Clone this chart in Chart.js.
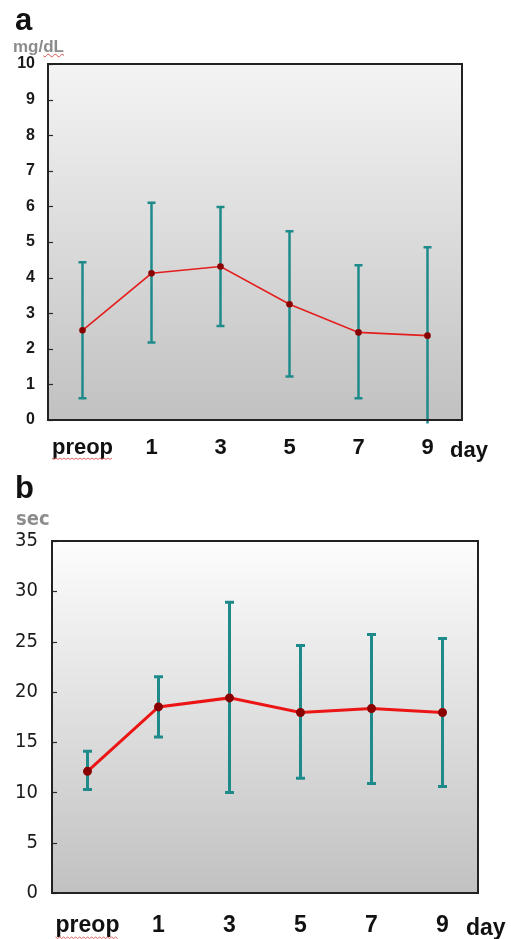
<!DOCTYPE html>
<html>
<head>
<meta charset="utf-8">
<script src="https://cdn.jsdelivr.net/npm/chart.js@4/dist/chart.umd.min.js"></script>
<style>
  body { margin: 0; background: #fff; width: 511px; height: 939px; position: relative; overflow: hidden;
         font-family: "Liberation Sans", Arial, sans-serif; }
  canvas { position: absolute; left: 0; }
  #chartA { top: 0; }
  #chartB { top: 470px; }
  .lbl { position: absolute; white-space: nowrap; line-height: 1; }
  .panel { font-weight: bold; font-size: 31px; color: #111; }
  .unit { color: #8c8c8c; font-weight: bold; }
  .day { font-weight: bold; color: #111; }
  .wavy { text-decoration: underline wavy #e05050; text-decoration-thickness: 1px; }
</style>
</head>
<body>
<canvas id="chartA" width="511" height="470"></canvas>
<canvas id="chartB" width="511" height="469"></canvas>

<div class="lbl panel" style="left:15px; top:4px;">a</div>
<div class="lbl unit" style="left:13px; top:38px; font-size:17px;">mg/<span class="wavy">dL</span></div>
<div class="lbl day" style="left:450px; top:439px; font-size:22px;">day</div>

<div class="lbl panel" style="left:15px; top:472px;">b</div>
<div class="lbl unit" style="left:16px; top:508px; font-size:20px; font-family:'DejaVu Sans Condensed',sans-serif;">sec</div>
<div class="lbl day" style="left:466px; top:916px; font-size:23px;">day</div>

<script>
// x categories
const days = ['preop', '1', '3', '5', '7', '9'];

// panel a (mg/dL)
const aMean  = [2.52, 4.12, 4.31, 3.25, 2.46, 2.37];
const aUpper = [4.43, 6.10, 5.98, 5.30, 4.35, 4.85];
const aLower = [0.61, 2.18, 2.64, 1.22, 0.61, -0.1];

// panel b (sec)
const bMean  = [12.1, 18.5, 19.4, 17.95, 18.35, 17.95];
const bUpper = [14.1, 21.5, 28.9, 24.6, 25.7, 25.3];
const bLower = [10.3, 15.5, 10.0, 11.4, 10.9, 10.6];

// gradient plot area, border, inner ticks
const plotFrame = {
  id: 'plotFrame',
  beforeDraw(chart, args, opts) {
    const { ctx, chartArea: { left, top, right, bottom } } = chart;
    const g = ctx.createLinearGradient(0, top, 0, bottom);
    g.addColorStop(0, opts.topColor);
    g.addColorStop(1, opts.bottomColor);
    ctx.save();
    ctx.fillStyle = g;
    ctx.fillRect(left, top, right - left, bottom - top);
    ctx.restore();
  },
  afterDraw(chart, args, opts) {
    const { ctx, chartArea: { left, top, right, bottom }, scales: { y } } = chart;
    ctx.save();
    ctx.strokeStyle = '#2a2a2a';
    ctx.lineWidth = 1.2;
    y.ticks.forEach(t => {
      const py = Math.round(y.getPixelForValue(t.value)) + 0.5;
      ctx.beginPath();
      ctx.moveTo(left, py);
      ctx.lineTo(left + 5, py);
      ctx.stroke();
    });
    ctx.strokeStyle = '#222';
    ctx.lineWidth = 2;
    ctx.strokeRect(left, top, right - left, bottom - top);
    ctx.restore();
  }
};

// SD bars drawn under the line
const errorBars = {
  id: 'errorBars',
  beforeDatasetsDraw(chart, args, opts) {
    const { ctx, scales: { x, y } } = chart;
    ctx.save();
    ctx.strokeStyle = opts.color;
    ctx.lineWidth = opts.width;
    opts.upper.forEach((hi, i) => {
      const px = x.getPixelForValue(i);
      const t = y.getPixelForValue(hi);
      const b = y.getPixelForValue(opts.lower[i]);
      ctx.beginPath();
      ctx.moveTo(px, t); ctx.lineTo(px, b);
      ctx.moveTo(px - opts.cap, t); ctx.lineTo(px + opts.cap, t);
      if (opts.lower[i] >= 0) { ctx.moveTo(px - opts.cap, b); ctx.lineTo(px + opts.cap, b); }
      ctx.stroke();
    });
    ctx.restore();
  }
};

// red squiggle under "preop"
const squiggle = {
  id: 'squiggle',
  afterDraw(chart, args, opts) {
    const { ctx, scales: { x } } = chart;
    const px = x.getPixelForTick(0);
    ctx.save();
    ctx.font = opts.font;
    const w = ctx.measureText(days[0]).width;
    ctx.strokeStyle = '#e06060';
    ctx.lineWidth = 1;
    ctx.beginPath();
    let sx = px - w / 2;
    for (let k = 0; sx + k * 2 <= px + w / 2; k++) {
      const yy = opts.y + (k % 2 ? 1.5 : 0);
      if (k === 0) ctx.moveTo(sx, yy); else ctx.lineTo(sx + k * 2, yy);
    }
    ctx.stroke();
    ctx.restore();
  }
};

function makeChart(id, cfg) {
  return new Chart(document.getElementById(id), {
    type: 'line',
    data: {
      labels: days,
      datasets: [{
        data: cfg.mean,
        borderColor: cfg.lineColor,
        borderWidth: cfg.lineWidth,
        pointRadius: cfg.pointRadius,
        pointBackgroundColor: '#8a0000',
        pointBorderColor: '#8a0000',
        tension: 0
      }]
    },
    options: {
      responsive: false,
      animation: false,
      events: [],
      layout: { padding: cfg.padding },
      plugins: {
        legend: { display: false },
        tooltip: { enabled: false },
        plotFrame: { topColor: cfg.bgTop, bottomColor: '#c1c1c1' },
        errorBars: { upper: cfg.upper, lower: cfg.lower, color: '#1f8a8a', width: cfg.barWidth, cap: cfg.cap },
        squiggle: { font: cfg.xFont, y: cfg.squiggleY }
      },
      scales: {
        x: {
          offset: true,
          grid: { display: false, drawTicks: false },
          border: { display: false },
          ticks: {
            color: '#111',
            font: { family: 'Liberation Sans', size: cfg.xSize, weight: 'bold' },
            padding: cfg.xPad,
            maxRotation: 0,
            autoSkip: false
          },
          afterFit: s => { s.height = cfg.xHeight; }
        },
        y: {
          min: 0,
          max: cfg.yMax,
          grid: { display: false, drawTicks: false },
          border: { display: false },
          ticks: {
            stepSize: cfg.step,
            color: '#1a1a1a',
            font: { family: cfg.yFamily, size: cfg.ySize, weight: cfg.yWeight },
            padding: cfg.yPad
          },
          afterFit: s => { s.width = cfg.yWidth; }
        }
      }
    },
    plugins: [plotFrame, errorBars, squiggle]
  });
}

makeChart('chartA', {
  mean: aMean, upper: aUpper, lower: aLower,
  lineColor: '#e41e1e', lineWidth: 1.6, pointRadius: 2.5,
  padding: { top: 64, right: 49, left: 0, bottom: 0 },
  bgTop: '#f4f4f4', barWidth: 2.5, cap: 4,
  xSize: 22, xPad: 15, xHeight: 50, xFont: 'bold 22px "Liberation Sans"', squiggleY: 458,
  yMax: 10, step: 1, yFamily: 'Liberation Sans', ySize: 16, yWeight: 'bold', yPad: 13, yWidth: 48
});

makeChart('chartB', {
  mean: bMean, upper: bUpper, lower: bLower,
  lineColor: '#ec1515', lineWidth: 3, pointRadius: 3,
  padding: { top: 71, right: 33, left: 0, bottom: 0 },
  bgTop: '#fdfdfd', barWidth: 3, cap: 4.5,
  xSize: 23, xPad: 19, xHeight: 46, xFont: 'bold 23px "Liberation Sans"', squiggleY: 467,
  yMax: 35, step: 5, yFamily: 'DejaVu Sans Condensed', ySize: 20, yWeight: 'normal', yPad: 14, yWidth: 52
});
</script>
</body>
</html>
